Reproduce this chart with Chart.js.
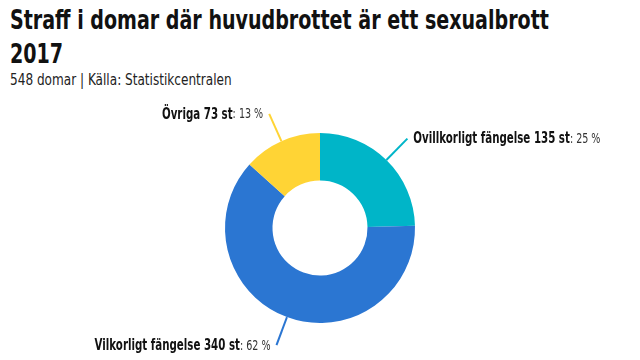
<!DOCTYPE html>
<html>
<head>
<meta charset="utf-8">
<script src="https://cdn.jsdelivr.net/npm/chart.js@4.4.0/dist/chart.umd.min.js"></script>
<style>
  html, body { margin: 0; padding: 0; background: #fff; }
  #wrap { position: relative; width: 640px; height: 360px; overflow: hidden; }
  .txt {
    position: absolute; left: 10px; white-space: nowrap;
    font-family: "DejaVu Sans Condensed", "Liberation Sans", sans-serif;
    transform-origin: left top;
  }
  #title {
    top: 3px; font-weight: bold; font-size: 26px; line-height: 34px; color: #111;
    transform: scaleX(0.815);
  }
  #sub {
    top: 70px; font-size: 16px; line-height: 20px; color: #222;
    transform: scaleX(0.84);
  }
  canvas { position: absolute; left: 0; top: 0; }
</style>
</head>
<body>
<div id="wrap">
  <div id="title" class="txt">Straff i domar där huvudbrottet är ett sexualbrott<br>2017</div>
  <div id="sub" class="txt">548 domar | Källa: Statistikcentralen</div>
  <canvas id="chart" width="640" height="360"></canvas>
</div>
<script>
// Data
const labels = ['Ovillkorligt fängelse', 'Vilkorligt fängelse', 'Övriga'];
const counts = [135, 340, 73];
const percents = [25, 62, 13];
const colors = ['#00b5c8', '#2b76d2', '#ffd435'];

const labelFont = '"DejaVu Sans Condensed", "Liberation Sans", sans-serif';
const squeeze = 0.76;

// Draw connector lines and labels outside the slices
const outsideLabels = {
  id: 'outsideLabels',
  afterDraw(chart) {
    const ctx = chart.ctx;
    const meta = chart.getDatasetMeta(0);
    meta.data.forEach((arc, i) => {
      const p = arc.getProps(['x', 'y', 'startAngle', 'endAngle', 'outerRadius'], true);
      const mid = (p.startAngle + p.endAngle) / 2;
      const cos = Math.cos(mid), sin = Math.sin(mid);
      const x1 = p.x + cos * p.outerRadius, y1 = p.y + sin * p.outerRadius;
      const x2 = p.x + cos * (p.outerRadius + 30), y2 = p.y + sin * (p.outerRadius + 30);
      ctx.save();
      ctx.strokeStyle = colors[i];
      ctx.lineWidth = 2;
      ctx.beginPath();
      ctx.moveTo(x1, y1);
      ctx.lineTo(x2, y2);
      ctx.stroke();

      const boldText = labels[i] + ' ' + counts[i] + ' st';
      const normText = ': ' + percents[i] + ' %';
      ctx.textBaseline = 'middle';
      ctx.font = 'bold 15px ' + labelFont;
      const wb = ctx.measureText(boldText).width * squeeze;
      ctx.font = '14px ' + labelFont;
      const wn = ctx.measureText(normText).width * squeeze;
      const tx = cos >= 0 ? x2 + 6 : x2 - 6 - wb - wn;
      ctx.translate(tx, y2 + 1);
      ctx.scale(squeeze, 1);
      ctx.fillStyle = '#111';
      ctx.font = 'bold 15px ' + labelFont;
      ctx.fillText(boldText, 0, 0);
      ctx.fillStyle = '#333';
      ctx.font = '14px ' + labelFont;
      ctx.fillText(normText, wb / squeeze, 0);
      ctx.restore();
    });
  }
};

new Chart(document.getElementById('chart').getContext('2d'), {
  type: 'doughnut',
  data: {
    labels: labels,
    datasets: [{
      data: counts,
      backgroundColor: colors,
      borderWidth: 0
    }]
  },
  options: {
    responsive: false,
    animation: false,
    cutout: '50%',
    layout: { padding: { top: 133, bottom: 37, left: 0, right: 0 } },
    plugins: {
      legend: { display: false },
      tooltip: { enabled: false }
    }
  },
  plugins: [outsideLabels]
});
</script>
</body>
</html>
